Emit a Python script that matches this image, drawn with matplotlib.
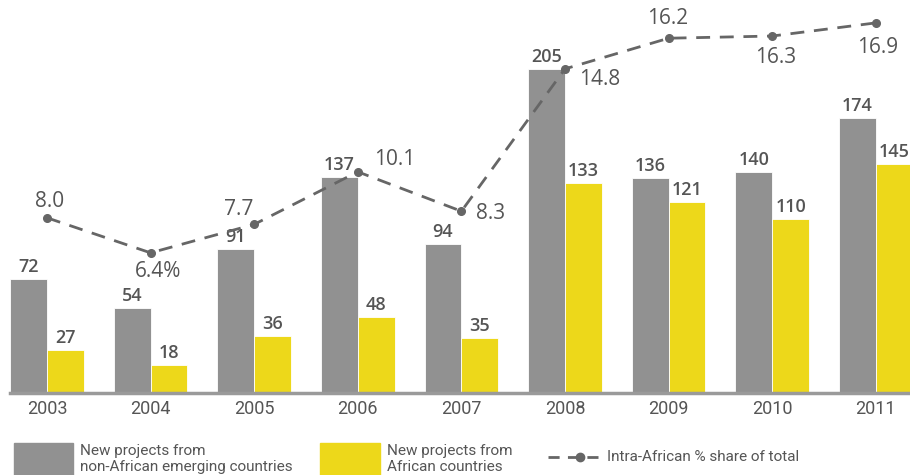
import matplotlib
matplotlib.use("Agg")
import matplotlib.pyplot as plt
from matplotlib.patches import Rectangle
from matplotlib.lines import Line2D
import numpy as np

plt.rcParams['font.family'] = ['Liberation Sans Narrow', 'Roboto', 'DejaVu Sans']

years = ["2003", "2004", "2005", "2006", "2007", "2008", "2009", "2010", "2011"]
non_african = [72, 54, 91, 137, 94, 205, 136, 140, 174]
african = [27, 18, 36, 48, 35, 133, 121, 110, 145]
share = [8.0, 6.4, 7.7, 10.1, 8.3, 14.8, 16.2, 16.3, 16.9]
share_labels = ["8.0", "6.4%", "7.7", "10.1", "8.3", "14.8", "16.2", "16.3", "16.9"]
legend_labels = ["New projects from\nnon-African emerging countries",
                 "New projects from\nAfrican countries",
                 "Intra-African % share of total"]

GRAY = "#919191"
YELLOW = "#EDD81A"
TXT = "#555555"
LINE = "#666666"

W, H = 910, 475
fig = plt.figure(figsize=(W / 100, H / 100), dpi=100)
ax_left = 10 / W
ax_bottom = (H - 393) / H
ax = fig.add_axes([ax_left, ax_bottom, 1 - ax_left, 1 - ax_bottom])

x = np.arange(len(years))
bw = 0.355
ax.bar(x - bw / 2, non_african, width=bw, color=GRAY, edgecolor='white', linewidth=0.6)
ax.bar(x + bw / 2, african, width=bw, color=YELLOW, edgecolor='white', linewidth=0.6)
ax.set_xlim(-0.357, 8.33)
ax.set_ylim(0, 393 / 1.58)

for xi, v in zip(x, non_african):
    ax.annotate(str(v), (xi - bw / 2, v), xytext=(0, 3), textcoords='offset pixels',
                ha='center', va='bottom', fontsize=13, fontweight='semibold', color=TXT,
                family=['Open Sans', 'DejaVu Sans'])
for xi, v in zip(x, african):
    ax.annotate(str(v), (xi + bw / 2, v), xytext=(0, 3), textcoords='offset pixels',
                ha='center', va='bottom', fontsize=13, fontweight='semibold', color=TXT,
                family=['Open Sans', 'DejaVu Sans'])

for s in ax.spines.values():
    s.set_visible(False)
ax.set_yticks([])
ax.set_xticks(x)
ax.set_xticklabels(years, fontsize=13, color=TXT)
ax.tick_params(axis='x', length=0, pad=5)
ax.axhline(0, color="#9a9a9a", linewidth=2.5, clip_on=False, zorder=5)

ax2 = ax.twinx()
ax2.set_ylim(0, 393 / 21.9)
ax2.plot(x, share, color=LINE, linestyle=(0, (5, 3.5)), linewidth=2,
         marker='o', markersize=5.5, markerfacecolor=LINE, markeredgecolor=LINE)
for s in ax2.spines.values():
    s.set_visible(False)
ax2.set_yticks([])

offsets = [(3, 16), (7, -19), (-16, 15), (37, 12), (29, -2), (35, -11), (-1, 20), (3, -21), (2, -25)]
for xi, v, lab, off in zip(x, share, share_labels, offsets):
    ax2.annotate(lab, (xi, v), xytext=off, textcoords='offset pixels',
                 ha='center', va='center', fontsize=15, color=TXT,
                 family=['Open Sans', 'DejaVu Sans'])

# legend
def fx(px):
    return px / W

def fy(py):
    return 1 - py / H

fig.patches.append(Rectangle((fx(14), fy(480)), fx(59), (480 - 443) / H, transform=fig.transFigure,
                             color=GRAY, clip_on=False))
fig.patches.append(Rectangle((fx(320), fy(480)), fx(60), (480 - 443) / H, transform=fig.transFigure,
                             color=YELLOW, clip_on=False))
fig.text(fx(80), fy(459), legend_labels[0], fontsize=11, color=TXT, va='center', ha='left',
         linespacing=1.15)
fig.text(fx(387), fy(459), legend_labels[1], fontsize=11, color=TXT, va='center', ha='left',
         linespacing=1.15)
fig.lines.append(Line2D([fx(548), fx(601)], [fy(457), fy(457)], transform=fig.transFigure,
                        color=LINE, linestyle=(0, (4, 3)), linewidth=2))
fig.lines.append(Line2D([fx(580)], [fy(457)], transform=fig.transFigure, color=LINE,
                        marker='o', markersize=6, linestyle='none'))
fig.text(fx(607), fy(457), legend_labels[2], fontsize=11, color=TXT, va='center', ha='left')

fig.savefig("out.png", dpi=100)
